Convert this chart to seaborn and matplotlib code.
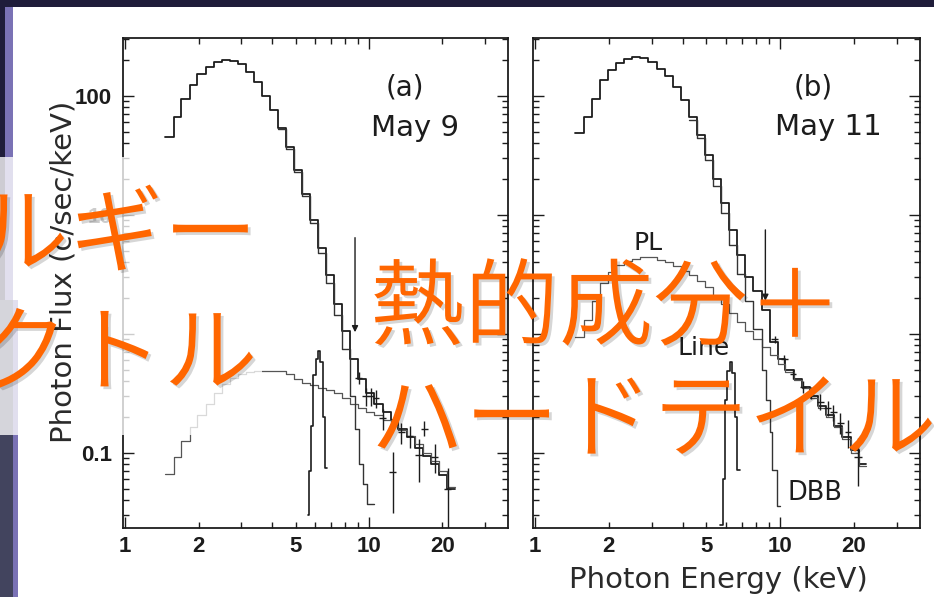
import numpy as np
import matplotlib
matplotlib.use("Agg")
import matplotlib.pyplot as plt
import matplotlib.patches as mpatches
import matplotlib.patheffects as pe
from matplotlib.ticker import FixedLocator, FuncFormatter, NullFormatter, LogLocator
import seaborn as sns

# ---------------------------------------------------------------- data
# energy bin edges (keV) of the continuum spectra
edges = [1.46, 1.58, 1.70, 1.84, 1.98, 2.14, 2.31, 2.49, 2.69, 2.90, 3.13, 3.38,
         3.64, 3.93, 4.24, 4.57, 4.93, 5.32, 5.74, 6.19, 6.68, 7.21, 7.78, 8.39,
         9.05, 9.77, 10.5, 11.4, 12.3, 13.2, 14.3, 15.4, 16.6, 17.9, 19.4, 20.9, 22.5]

# (a) May 9
total_a = [45, 66, 94, 124, 153, 175, 192, 200, 197, 186, 160, 130, 100, 76, 54, 37,
           24, 15, 9.0, 5.3, 3.1, 1.8, 1.05, 0.62, 0.42, 0.32, 0.26, 0.22, 0.19, 0.16,
           0.135, 0.11, 0.095, 0.08, 0.065, 0.05]
soft_a = [0.066, 0.092, 0.125, 0.165, 0.21, 0.26, 0.32, 0.38, 0.43, 0.46, 0.48, 0.485,
          0.49, 0.49, 0.49, 0.46, 0.42, 0.39, 0.37, 0.35, 0.34, 0.32, 0.29, 0.26, 0.24,
          0.22, 0.21, 0.19, 0.17, 0.155, 0.14, 0.12, 0.10, 0.085, 0.07, 0.052]
dbb_edges_a = [4.24, 4.57, 4.93, 5.32, 5.74, 6.19, 6.68, 7.21, 7.78, 8.39, 8.75, 9.10,
               9.45, 9.85, 10.5]
dbb_a = [53, 36, 23, 14.5, 8.5, 4.8, 2.7, 1.45, 0.75, 0.30, 0.16, 0.08, 0.055, 0.037]
line_edges_a = [5.60, 5.70, 5.80, 5.92, 6.05, 6.18, 6.32, 6.46, 6.60, 6.75]
line_a = [0.03, 0.07, 0.17, 0.45, 0.62, 0.72, 0.58, 0.20, 0.075]
data_E_a = [9.1, 9.7, 10.2, 10.7, 11.4, 12.5, 13.6, 14.7, 16.0, 16.9, 18.6, 21.1]
data_F_a = [0.43, 0.30, 0.30, 0.29, 0.195, 0.069, 0.15, 0.14, 0.097, 0.16, 0.093, 0.05]
data_lo_a = [0.05, 0.05, 0.05, 0.05, 0.04, 0.038, 0.03, 0.03, 0.04, 0.02, 0.025, 0.03]
data_hi_a = [0.05, 0.05, 0.05, 0.05, 0.04, 0.032, 0.03, 0.03, 0.035, 0.025, 0.025, 0.025]
data_dE_a = [0.3, 0.3, 0.3, 0.35, 0.4, 0.4, 0.45, 0.5, 0.5, 0.55, 0.6, 0.7]
arrow_a = (8.77, 6.8, 0.98)

# (b) May 11
total_b = [49, 66, 94, 136, 165, 190, 205, 212, 208, 192, 170, 147, 118, 92, 66, 47,
           32, 20, 12.5, 7.5, 4.6, 3.0, 2.3, 1.6, 0.85, 0.62, 0.5, 0.42, 0.36, 0.30,
           0.25, 0.21, 0.17, 0.135, 0.105, 0.08]
pl_b = [0.95, 1.3, 1.9, 2.7, 3.3, 3.8, 4.1, 4.3, 4.4, 4.4, 4.2, 4.0, 3.7, 3.4, 3.1, 2.8,
        2.5, 2.1, 1.8, 1.5, 1.25, 1.05, 0.9, 0.78, 0.66, 0.56, 0.48, 0.41, 0.35, 0.29,
        0.24, 0.2, 0.165, 0.13, 0.1, 0.078]
dbb_edges_b = [4.24, 4.57, 4.93, 5.32, 5.74, 6.19, 6.68, 7.21, 7.78, 8.39, 8.75, 9.05,
               9.30, 9.70, 10.0]
dbb_b = [63, 44, 29, 17.5, 10.3, 5.6, 3.2, 1.9, 1.1, 0.5, 0.28, 0.15, 0.072, 0.036]
line_edges_b = [5.68, 5.82, 5.96, 6.08, 6.22, 6.38, 6.52, 6.68, 6.87]
line_b = [0.025, 0.06, 0.28, 0.49, 0.58, 0.47, 0.20, 0.072]
data_E_b = [9.5, 10.4, 11.3, 12.4, 13.3, 14.6, 15.6, 16.5, 17.6, 18.9, 20.8]
data_F_b = [0.9, 0.62, 0.46, 0.36, 0.32, 0.27, 0.24, 0.22, 0.18, 0.15, 0.093]
data_err_b = [0.06, 0.05, 0.04, 0.04, 0.035, 0.04, 0.035, 0.035, 0.035, 0.04, 0.04]
data_dE_b = [0.3, 0.35, 0.35, 0.4, 0.4, 0.45, 0.5, 0.5, 0.55, 0.6, 0.7]
arrow_b = (8.7, 7.9, 1.8)

x_labels = [1, 2, 5, 10, 20]
y_labels = [0.1, 1, 10, 100]

# ---------------------------------------------------------------- style
W, H, DPI = 934, 597, 100
sns.set_style("ticks")
plt.rcParams["font.family"] = ["Liberation Sans", "DejaVu Sans"]
plt.rcParams["font.weight"] = "bold"

INK = "#1c1c1c"
CJK = ["Noto Sans CJK JP", "DejaVu Sans"]
PLAIN = ["DejaVu Sans"]


def px(x):
    return x / W


def py(y):
    return 1 - y / H


fig = plt.figure(figsize=(W / DPI, H / DPI), dpi=DPI, facecolor="white")
ax_a = fig.add_axes([px(123), py(528), (508 - 123) / W, (528 - 38) / H])
ax_b = fig.add_axes([px(533), py(528), (920 - 533) / W, (528 - 38) / H])


def step(ax, e, v, lw=1.3, color=INK, alpha=1.0):
    xs = list(e)
    ys = list(v) + [v[-1]]
    sns.lineplot(x=xs, y=ys, drawstyle="steps-post", estimator=None, sort=False,
                 color=color, linewidth=lw, alpha=alpha, ax=ax)


def frame(ax, ylabels):
    ax.set_xscale("log")
    ax.set_yscale("log")
    ax.set_xlim(0.98, 37.2)
    ax.set_ylim(0.0234, 307)
    ax.xaxis.set_major_locator(FixedLocator([1, 10]))
    ax.xaxis.set_minor_locator(FixedLocator([2, 3, 4, 5, 6, 7, 8, 9, 20, 30]))
    ax.xaxis.set_major_formatter(FuncFormatter(lambda v, p: f"{v:g}"))
    ax.xaxis.set_minor_formatter(FuncFormatter(
        lambda v, p: f"{v:g}" if any(abs(v - t) < 1e-6 for t in x_labels) else ""))
    ax.yaxis.set_major_locator(FixedLocator(y_labels))
    ax.yaxis.set_minor_locator(LogLocator(base=10, subs=np.arange(2, 10)))
    ax.yaxis.set_minor_formatter(NullFormatter())
    if ylabels:
        ax.yaxis.set_major_formatter(FuncFormatter(lambda v, p: f"{v:g}"))
    else:
        ax.yaxis.set_major_formatter(NullFormatter())
    ax.tick_params(which="both", direction="in", top=True, right=True,
                   colors=INK, labelsize=16, width=1.0)
    ax.tick_params(which="major", length=8)
    ax.tick_params(which="minor", length=4)
    ax.tick_params(axis="x", which="both", pad=6)
    ax.tick_params(axis="y", which="both", pad=8)
    for s in ax.spines.values():
        s.set_linewidth(1.3)
        s.set_color(INK)
    ax.set_facecolor("white")


for ax in (ax_a, ax_b):
    ax.set_xscale("log")
    ax.set_yscale("log")

# (a) May 9
step(ax_a, edges, total_a, lw=1.3)
step(ax_a, edges, soft_a, lw=0.9, color="#555555")
step(ax_a, dbb_edges_a, dbb_a, lw=1.0, color="#333333")
step(ax_a, line_edges_a, line_a, lw=1.2)
ax_a.errorbar(data_E_a, data_F_a, xerr=data_dE_a, yerr=[data_lo_a, data_hi_a],
              fmt="none", ecolor=INK, elinewidth=1.0, capsize=0)
ax_a.annotate("", xy=(arrow_a[0], arrow_a[2]), xytext=(arrow_a[0], arrow_a[1]),
              arrowprops=dict(arrowstyle="-|>", color=INK, lw=1.0,
                              mutation_scale=9))
frame(ax_a, True)
ax_a.text(0.732, 0.898, "(a)", transform=ax_a.transAxes, ha="center", va="center",
          fontsize=20, family=PLAIN, fontweight="normal", color=INK)
ax_a.text(0.758, 0.816, "May 9", transform=ax_a.transAxes, ha="center", va="center",
          fontsize=21, family=PLAIN, fontweight="normal", color=INK)

# (b) May 11
step(ax_b, edges, total_b, lw=1.3)
step(ax_b, edges, pl_b, lw=0.9, color="#555555")
step(ax_b, dbb_edges_b, dbb_b, lw=1.0, color="#333333")
step(ax_b, line_edges_b, line_b, lw=1.2)
ax_b.errorbar(data_E_b, data_F_b, xerr=data_dE_b, yerr=data_err_b,
              fmt="none", ecolor=INK, elinewidth=1.0, capsize=0)
ax_b.annotate("", xy=(arrow_b[0], arrow_b[2]), xytext=(arrow_b[0], arrow_b[1]),
              arrowprops=dict(arrowstyle="-|>", color=INK, lw=1.0,
                              mutation_scale=9))
frame(ax_b, False)
ax_b.text(0.724, 0.898, "(b)", transform=ax_b.transAxes, ha="center", va="center",
          fontsize=20, family=PLAIN, fontweight="normal", color=INK)
ax_b.text(0.762, 0.818, "May 11", transform=ax_b.transAxes, ha="center", va="center",
          fontsize=21, family=PLAIN, fontweight="normal", color=INK)
ax_b.text(2.89, 5.8, "PL", ha="center", va="center", fontsize=18, family=PLAIN,
          fontweight="normal", color=INK)
ax_b.text(4.85, 0.76, "Line", ha="center", va="center", fontsize=18, family=PLAIN,
          fontweight="normal", color=INK)
ax_b.text(13.9, 0.046, "DBB", ha="center", va="center", fontsize=18.5, family=PLAIN,
          fontweight="normal", color=INK)

# shared axis titles
fig.text(px(64), py(272), "Photon Flux (c/sec/keV)", rotation=90, ha="center",
         va="center", fontsize=21, family=PLAIN, fontweight="normal", color="#2a2a2a")
fig.text(px(718), py(580), "Photon Energy (keV)", ha="center", va="center",
         fontsize=21, family=PLAIN, fontweight="normal", color="#2a2a2a")

# ---------------------------------------------------------------- slide frame
navy = "#1f1d3a"
slate = "#42445e"
purple = "#7a72b5"


def rect(x0, y0, x1, y1, color, z, alpha=1.0):
    fig.add_artist(mpatches.Rectangle((px(x0), py(y1)), (x1 - x0) / W, (y1 - y0) / H,
                                      transform=fig.transFigure, facecolor=color,
                                      edgecolor="none", alpha=alpha, zorder=z))


rect(0, 0, W, 7, navy, 0.5)
rect(0, 0, 5, 300, navy, 0.5)
rect(5, 7, 13, 300, purple, 0.5)
rect(0, 300, 13, H, slate, 0.5)
rect(13, 300, 18, H, purple, 0.5)

# translucent caption panel on the left
rect(0, 157, 262, 435, "white", 2, alpha=0.78)

# ---------------------------------------------------------------- captions
orange = "#ff6600"
shadow = [pe.withSimplePatchShadow(offset=(2, -2), shadow_rgbFace="black",
                                   alpha=0.16)]
cap = dict(fontsize=68, color=orange, family=CJK, fontweight=360,
           path_effects=shadow, zorder=5, va="center")
fig.text(px(258), py(238), "エネルギー", ha="right", **cap)
fig.text(px(258), py(357), "スペクトル", ha="right", **cap)
fig.text(px(370), py(311), "熱的成分＋", ha="left", **cap)
fig.text(px(370), py(423), "ハードテイル", ha="left", **cap)

fig.savefig("out.png", dpi=DPI, facecolor="white")
